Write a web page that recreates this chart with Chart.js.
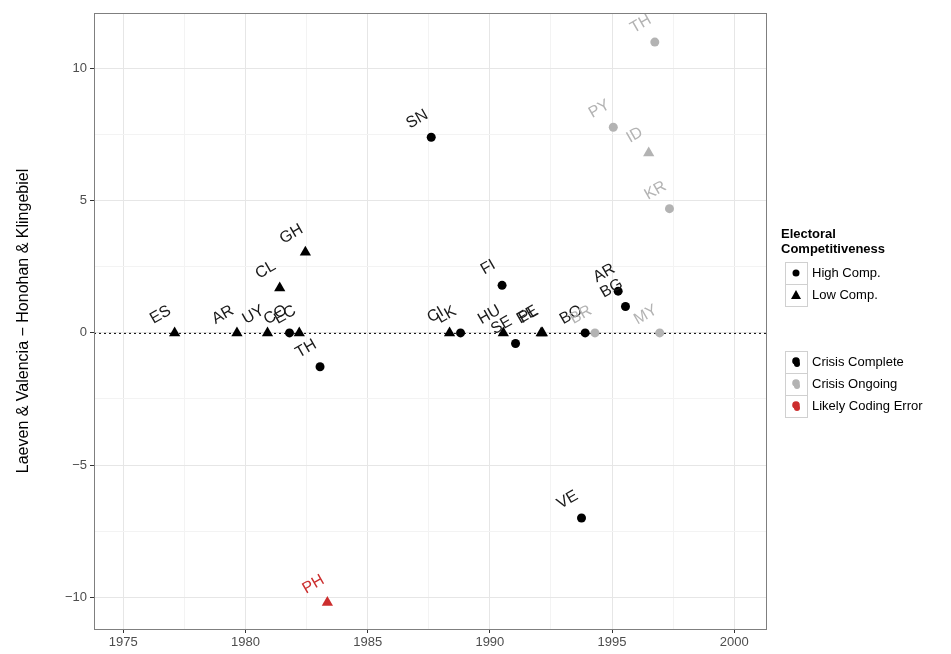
<!DOCTYPE html>
<html>
<head>
<meta charset="utf-8">
<script src="https://cdn.jsdelivr.net/npm/chart.js@4/dist/chart.umd.min.js"></script>
<style>
  body { margin: 0; background: #fff; }
  #wrap { width: 951px; height: 654px; }
</style>
</head>
<body>
<div id="wrap"><canvas id="crisisChart" width="951" height="654"></canvas></div>
<script>
// crisis complete, high competitiveness (circles)
let doneHighCodes = ["CO", "TH", "SN", "LK", "FI", "SE", "BO", "VE", "AR", "BG"];
let doneHighYears = [1981.8, 1983.05, 1987.6, 1988.8, 1990.5, 1991.05, 1993.9, 1993.75, 1995.25, 1995.55];
let doneHighVals = [0, -1.28, 7.4, 0, 1.8, -0.4, 0, -7.0, 1.58, 1.0];

// crisis complete, low competitiveness (triangles)
let doneLowCodes = ["ES", "AR", "UY", "EC", "CL", "GH", "CI", "HU", "EE", "PL"];
let doneLowYears = [1977.1, 1979.65, 1980.9, 1982.2, 1981.4, 1982.45, 1988.35, 1990.55, 1992.1, 1992.15];
let doneLowVals = [0, 0, 0, 0, 1.7, 3.05, 0, 0, 0, 0];

// crisis ongoing
let openHighCodes = ["BR", "TH", "PY", "KR", "MY"];
let openHighYears = [1994.3, 1996.75, 1995.05, 1997.35, 1996.95];
let openHighVals = [0, 11.0, 7.78, 4.7, 0];

let openLowCodes = ["ID"];
let openLowYears = [1996.5];
let openLowVals = [6.8];

// likely coding error
let errLowCodes = ["PH"];
let errLowYears = [1983.35];
let errLowVals = [-10.2];

let xTicks = [1975, 1980, 1985, 1990, 1995, 2000];
let yTicks = [-10, -5, 0, 5, 10];

const BLACK = "#000000";
const GREY = "#b3b3b3";
const RED = "#cc2e2e";

function toPoints(xs, ys) {
  let out = [];
  for (let i = 0; i < xs.length; i++) out.push({ x: xs[i], y: ys[i] });
  return out;
}

function makeSet(name, xs, ys, codes, shape, color) {
  return {
    label: name,
    data: toPoints(xs, ys),
    codes: codes,
    pointStyle: shape,
    pointRadius: shape === "triangle" ? 6.5 : 4.5,
    backgroundColor: color,
    borderColor: color,
    borderWidth: 0,
    textColor: color === BLACK ? "#1a1a1a" : color
  };
}

// add minor lines halfway between major ticks, kept inside the axis range
function withMinor(list, lo, hi) {
  let out = [];
  const step = list[1] - list[0];
  let first = list[0] - step / 2;
  if (first > lo) out.push({ value: first, major: false });
  for (let i = 0; i < list.length; i++) {
    out.push({ value: list[i], major: true });
    if (i < list.length - 1) out.push({ value: (list[i] + list[i + 1]) / 2, major: false });
  }
  let last = list[list.length - 1] + step / 2;
  if (last < hi) out.push({ value: last, major: false });
  return out;
}

const decor = {
  id: "decor",
  beforeDatasetsDraw(chart) {
    const c = chart.ctx, a = chart.chartArea;
    const y0 = chart.scales.y.getPixelForValue(0);
    c.save();
    c.strokeStyle = "#000";
    c.lineWidth = 1;
    c.setLineDash([2, 3]);
    c.beginPath();
    c.moveTo(a.left, y0 + 0.5);
    c.lineTo(a.right, y0 + 0.5);
    c.stroke();
    c.restore();
  },
  afterDatasetsDraw(chart) {
    const c = chart.ctx;
    c.save();
    c.font = "16px 'Liberation Sans', Arial, sans-serif";
    c.textAlign = "center";
    c.textBaseline = "middle";
    chart.data.datasets.forEach((ds, i) => {
      const meta = chart.getDatasetMeta(i);
      meta.data.forEach((pt, j) => {
        c.save();
        c.translate(pt.x - 14, pt.y - 18);
        c.rotate(-Math.PI / 6);
        c.fillStyle = ds.textColor;
        c.fillText(ds.codes[j], 0, 0);
        c.restore();
      });
    });
    c.restore();
  },
  afterDraw(chart) {
    const c = chart.ctx, a = chart.chartArea;
    c.save();
    c.strokeStyle = "#7f7f7f";
    c.lineWidth = 1;
    c.strokeRect(a.left + 0.5, a.top + 0.5, a.right - a.left, a.bottom - a.top);

    // legend
    const lx = 781;
    c.fillStyle = "#000";
    c.font = "bold 13px 'Liberation Sans', Arial, sans-serif";
    c.textBaseline = "middle";
    c.textAlign = "left";
    c.fillText("Electoral", lx, 234);
    c.fillText("Competitiveness", lx, 249);

    c.font = "13px 'Liberation Sans', Arial, sans-serif";
    const keyX = 785, keyW = 22, keyH = 22;
    function keyBox(y) {
      c.strokeStyle = "#d0d0d0";
      c.lineWidth = 1;
      c.strokeRect(keyX + 0.5, y + 0.5, keyW, keyH);
    }
    // shape keys
    keyBox(262);
    c.fillStyle = "#000";
    c.beginPath(); c.arc(keyX + 11, 273, 3.5, 0, Math.PI * 2); c.fill();
    c.fillText("High Comp.", 812, 273);
    keyBox(284);
    c.beginPath();
    c.moveTo(keyX + 11, 290); c.lineTo(keyX + 16, 299); c.lineTo(keyX + 6, 299); c.closePath(); c.fill();
    c.fillText("Low Comp.", 812, 295);

    // colour keys
    const colKeys = [["Crisis Complete", BLACK], ["Crisis Ongoing", GREY], ["Likely Coding Error", RED]];
    colKeys.forEach((k, i) => {
      const y = 351 + i * 22;
      keyBox(y);
      c.fillStyle = k[1];
      c.beginPath(); c.arc(keyX + 11, y + 10, 3.8, 0, Math.PI * 2); c.fill();
      c.beginPath(); c.arc(keyX + 12, y + 13, 3, 0, Math.PI * 2); c.fill();
      c.fillStyle = "#000";
      c.fillText(k[0], 812, y + 11);
    });
    c.restore();
  }
};

const ctx = document.getElementById("crisisChart").getContext("2d");

new Chart(ctx, {
  type: "scatter",
  data: {
    datasets: [
      makeSet("Crisis Complete - High", doneHighYears, doneHighVals, doneHighCodes, "circle", BLACK),
      makeSet("Crisis Complete - Low", doneLowYears, doneLowVals, doneLowCodes, "triangle", BLACK),
      makeSet("Crisis Ongoing - High", openHighYears, openHighVals, openHighCodes, "circle", GREY),
      makeSet("Crisis Ongoing - Low", openLowYears, openLowVals, openLowCodes, "triangle", GREY),
      makeSet("Likely Coding Error", errLowYears, errLowVals, errLowCodes, "triangle", RED)
    ]
  },
  options: {
    responsive: false,
    animation: false,
    layout: { padding: { top: 13, right: 185, left: 0, bottom: 0 } },
    plugins: {
      legend: { display: false },
      tooltip: { enabled: false }
    },
    scales: {
      x: {
        type: "linear",
        min: 1973.8,
        max: 2001.3,
        afterBuildTicks(scale) { scale.ticks = withMinor(xTicks, 1973.8, 2001.3); },
        afterFit(scale) { scale.height = 25; },
        border: { display: false },
        grid: {
          color: (c) => (c.tick && c.tick.major ? "#e6e6e6" : "#f3f3f3"),
          tickColor: (c) => (c.tick && c.tick.major ? "#333" : "rgba(0,0,0,0)"),
          tickLength: 4
        },
        ticks: {
          autoSkip: false,
          maxRotation: 0,
          padding: 2,
          color: "#4d4d4d",
          font: { size: 13, family: "'Liberation Sans', Arial, sans-serif" },
          callback: function (v, i, t) { return t[i].major ? String(v) : ""; }
        }
      },
      y: {
        type: "linear",
        min: -11.2,
        max: 12.1,
        afterBuildTicks(scale) { scale.ticks = withMinor(yTicks, -11.2, 12.1); },
        afterFit(scale) { scale.width = 94; },
        border: { display: false },
        grid: {
          color: (c) => (c.tick && c.tick.major ? "#e6e6e6" : "#f3f3f3"),
          tickColor: (c) => (c.tick && c.tick.major ? "#333" : "rgba(0,0,0,0)"),
          tickLength: 4
        },
        ticks: {
          autoSkip: false,
          padding: 3,
          color: "#4d4d4d",
          font: { size: 13, family: "'Liberation Sans', Arial, sans-serif" },
          callback: function (v, i, t) { return t[i].major ? (v < 0 ? "\u2212" + Math.abs(v) : String(v)) : ""; }
        },
        title: {
          display: true,
          text: "Laeven & Valencia \u2212 Honohan & Klingebiel",
          color: "#000",
          font: { size: 16, family: "'Liberation Sans', Arial, sans-serif" },
          padding: { top: 14, bottom: 0 }
        }
      }
    }
  },
  plugins: [decor]
});
</script>
</body>
</html>
